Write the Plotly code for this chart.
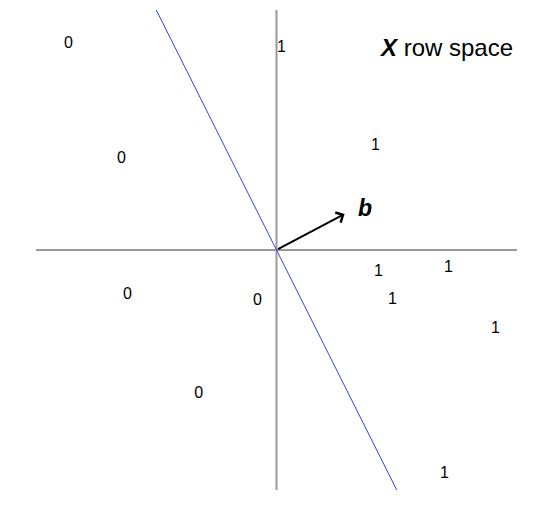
import plotly.graph_objects as go

# Labelled points (row-space coordinates)
pt_x = [-0.865, 0.021, -0.645, 0.411, -0.620, -0.079, 0.424, 0.715, 0.482, 0.910, -0.324, 0.698]
pt_y = [0.858, 0.842, 0.379, 0.433, -0.187, -0.212, -0.092, -0.075, -0.208, -0.329, -0.600, -0.933]
pt_label = ["0", "1", "0", "1", "0", "0", "1", "1", "1", "1", "0", "1"]

# Coefficient vector b and decision boundary
b_vec = [0.283, 0.15]
boundary_x = [-0.5, 0.5]
boundary_y = [1.0, -1.0]

font_family = "Liberation Sans, Arial, Helvetica, sans-serif"

fig = go.Figure()

# axes lines
fig.add_trace(go.Scatter(x=[-1, 1], y=[0, 0], mode="lines",
                         line=dict(color="#333333", width=1), hoverinfo="skip"))
fig.add_trace(go.Scatter(x=[0, 0], y=[-1, 1], mode="lines",
                         line=dict(color="#999999", width=2), hoverinfo="skip"))

# boundary line
fig.add_trace(go.Scatter(x=boundary_x, y=boundary_y, mode="lines",
                         line=dict(color="#3344ee", width=1), hoverinfo="skip"))

# points as text
fig.add_trace(go.Scatter(x=pt_x, y=pt_y, mode="text", text=pt_label,
                         textfont=dict(family=font_family, size=16, color="black"),
                         textposition="middle center"))

# arrow b
fig.add_annotation(x=b_vec[0], y=b_vec[1], ax=0, ay=0, xref="x", yref="y",
                   axref="x", ayref="y", text="", showarrow=True,
                   arrowhead=4, arrowsize=1.1, arrowwidth=2, arrowcolor="black")
fig.add_annotation(x=0.366, y=0.175, xref="x", yref="y",
                   text="<b><i>b</i></b>", showarrow=False,
                   font=dict(family=font_family, size=23, color="black"))

# title
fig.add_annotation(x=0.99, y=0.842, xref="x", yref="y", xanchor="right",
                   text="<b><i>X</i></b> row space", showarrow=False,
                   font=dict(family=font_family, size=24, color="black"))

fig.update_layout(
    width=548, height=508,
    margin=dict(l=28, r=39, t=2, b=26),
    paper_bgcolor="white", plot_bgcolor="white",
    showlegend=False,
    xaxis=dict(range=[-1, 1], visible=False, fixedrange=True),
    yaxis=dict(range=[-1, 1], visible=False, fixedrange=True),
)

fig.write_html("out.html")
